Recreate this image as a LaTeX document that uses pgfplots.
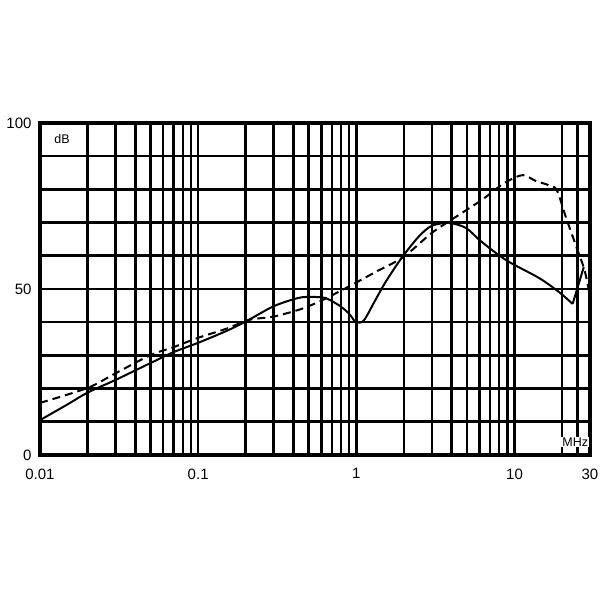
\documentclass[border=0pt]{standalone}
\usepackage{pgfplots}
\pgfplotsset{compat=1.18}
\usepackage{fontspec}
\setmainfont{Liberation Sans}
\begin{document}
\begin{tikzpicture}
\path[use as bounding box] (0,0) rectangle (600pt,600pt);
\begin{axis}[
  at={(40pt,145pt)}, anchor=south west,
  scale only axis, width=550pt, height=332pt,
  xmode=log, xmin=0.01, xmax=30, ymin=0, ymax=100,
  xtick={0.01,0.1,1,10,30},
  xticklabels={0.01,0.1,1,10,30},
  minor xtick={0.02,0.03,0.04,0.05,0.06,0.07,0.08,0.09,0.2,0.3,0.4,0.5,0.6,0.7,0.8,0.9,2,3,4,5,6,7,8,9,20,25},
  ytick={0,50,100},
  minor ytick={10,20,30,40,60,70,80,90},
  grid=both,
  major grid style={black, line width=2.6pt},
  minor grid style={black, line width=2.6pt},
  major tick length=0pt, minor tick length=0pt,
  axis line style={line width=3.5pt},
  tick label style={font=\fontsize{15}{16}\selectfont},
  xticklabel style={yshift=-10pt},
  yticklabel style={xshift=-5pt},
  /pgf/number format/assume math mode=true,
  clip=true,
]
\addplot[black, line width=2pt, smooth, tension=0.5] coordinates {
(0.01,10.5) (0.015,15.3) (0.02,18.8) (0.03,22.6) (0.05,27.7) (0.07,31) (0.1,33.8)
(0.15,37.3) (0.2,40.2) (0.3,44.8) (0.43,47.3) (0.52,47.6) (0.635,47.3) (0.77,45.2)
(0.89,42.8) (0.985,40)
};
\addplot[black, line width=2pt, smooth, tension=0.5] coordinates {
(0.985,40) (1.11,40.4) (1.32,46.7) (1.53,52.1) (1.93,59.3) (2.47,65.7)
(2.99,69) (3.83,69.9) (4.92,68.4) (6.2,64.2) (8.84,58.7) (14.3,53.3) (19.2,49)
(23.3,45.5)
};
\addplot[black, line width=2pt] coordinates {(23.3,45.5) (27.4,56.6)};
\addplot[black, line width=2pt, dash pattern=on 8pt off 5pt, smooth, tension=0.5] coordinates {
(0.01,15.7) (0.02,20.2) (0.03,24.6) (0.05,30.1) (0.07,32.5) (0.1,35.3) (0.15,38)
(0.21,40.7) (0.3,41.7) (0.45,44) (0.6,46.5) (0.77,49.1) (0.985,51.8) (1.32,55.1)
(1.98,59.6) (3.0,66.9) (4.25,71.7) (6.2,76.8) (7.2,79.2) (8.6,81.9) (9.3,82.8)
(11.3,84.3) (13.7,82.5) (16.4,81.3) (18.5,79.8) (21.1,71.7) (24.6,62.7) (27.7,55.7)
(29.7,48.8) (30,46.7)
};
\node[font=\fontsize{12.5}{14}\selectfont, inner sep=1pt] at (axis cs:0.0138,95.2) {dB};
\node[font=\fontsize{12.5}{14}\selectfont, fill=white, inner sep=1pt] at (axis cs:24.2,3.9) {MHz};
\end{axis}
\end{tikzpicture}
\end{document}
